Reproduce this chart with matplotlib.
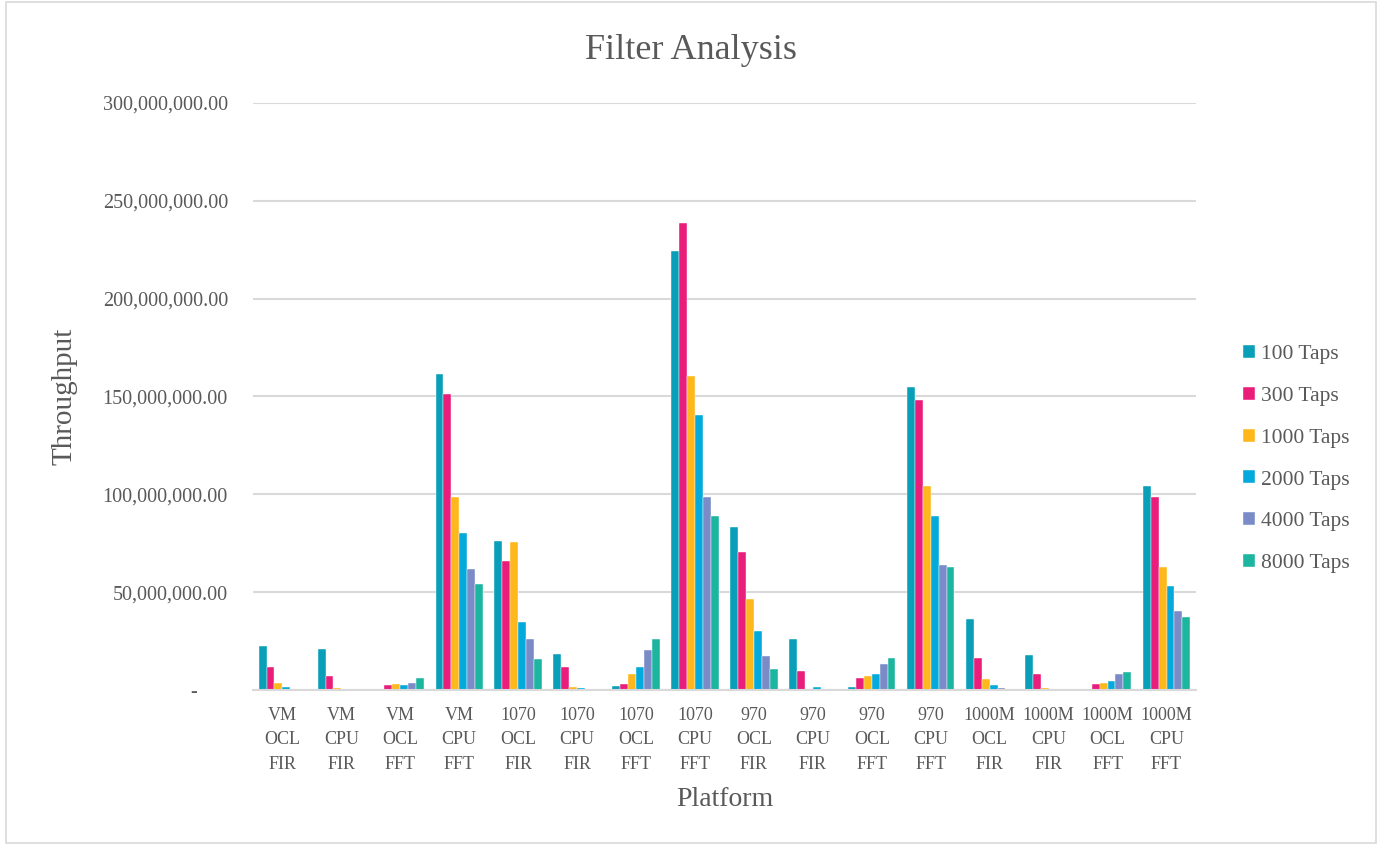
import numpy as np
import matplotlib.pyplot as plt
from matplotlib.patches import Rectangle
from matplotlib.ticker import FuncFormatter

plt.rcParams['font.family'] = ['Liberation Serif', 'DejaVu Serif']

platforms = ["VM\nOCL\nFIR", "VM\nCPU\nFIR", "VM\nOCL\nFFT", "VM\nCPU\nFFT",
             "1070\nOCL\nFIR", "1070\nCPU\nFIR", "1070\nOCL\nFFT", "1070\nCPU\nFFT",
             "970\nOCL\nFIR", "970\nCPU\nFIR", "970\nOCL\nFFT", "970\nCPU\nFFT",
             "1000M\nOCL\nFIR", "1000M\nCPU\nFIR", "1000M\nOCL\nFFT", "1000M\nCPU\nFFT"]

taps = ["100 Taps", "300 Taps", "1000 Taps", "2000 Taps", "4000 Taps", "8000 Taps"]

# throughput in millions of samples/s
taps_100 = [22.5, 21.1, 0.7, 161.5, 76.1, 18.4, 2.0, 224.2, 83.3, 26.1, 1.4, 155.0, 36.1, 17.7, 0.5, 104.1]
taps_300 = [11.9, 7.2, 2.6, 151.3, 65.8, 11.8, 3.2, 238.5, 70.7, 9.5, 6.3, 148.2, 16.4, 8.0, 3.1, 98.6]
taps_1000 = [3.7, 1.0, 3.1, 98.6, 75.5, 1.5, 8.2, 160.6, 46.3, 0.3, 7.0, 104.4, 5.5, 0.9, 3.7, 62.9]
taps_2000 = [1.5, 0.1, 2.4, 80.1, 34.9, 1.0, 11.6, 140.5, 30.0, 1.4, 8.0, 88.9, 2.6, 0.2, 4.8, 53.1]
taps_4000 = [0.7, 0.05, 3.7, 61.8, 26.2, 0.1, 20.4, 98.6, 17.4, 0.1, 13.4, 64.0, 1.0, 0.1, 8.0, 40.4]
taps_8000 = [0.2, 0.03, 6.1, 54.0, 16.0, 0.1, 25.9, 88.9, 10.7, 0.1, 16.4, 62.7, 0.3, 0.1, 9.4, 37.2]

series = [taps_100, taps_300, taps_1000, taps_2000, taps_4000, taps_8000]
colors = ["#0A9FB9", "#E91E7A", "#FFB81C", "#03AADB", "#7A8BC8", "#1CB5A0"]

text_col = "#595959"
grid_col = "#D9D9D9"

fig = plt.figure(figsize=(13.82, 8.44), dpi=100)
ax = fig.add_axes([0.183, 0.1825, 0.6824, 0.6955])

x = np.arange(len(platforms))
w = 0.134
for i, (vals, c, lab) in enumerate(zip(series, colors, taps)):
    ax.bar(x + (i - 2.5) * w, np.array(vals) * 1e6, width=w, color=c, label=lab,
           edgecolor="white", linewidth=0.3)

ax.set_xlim(-0.5, len(platforms) - 0.5)
ax.set_ylim(0, 300e6)
ax.set_yticks(np.arange(0, 300e6 + 1, 50e6))

def fmt(v, pos):
    if v == 0:
        return "-      "
    return f"{v:,.2f}"

ax.yaxis.set_major_formatter(FuncFormatter(fmt))
ax.set_xticks(x)
ax.set_xticklabels(platforms, linespacing=1.6)

ax.grid(axis="y", color=grid_col, linewidth=1.5)
ax.set_axisbelow(True)
for s in ["top", "right", "left"]:
    ax.spines[s].set_visible(False)
ax.spines["bottom"].set_color(grid_col)
ax.spines["bottom"].set_linewidth(1.5)
ax.tick_params(axis="both", length=0, colors=text_col)
ax.tick_params(axis="y", pad=18, labelsize=14.5)
ax.tick_params(axis="x", pad=12, labelsize=13)

ax.set_xlabel("Platform", fontsize=20, color=text_col, labelpad=10)
ax.set_ylabel("Throughput", fontsize=21, color=text_col, labelpad=18)
fig.text(0.5, 0.94, "Filter Analysis", ha="center", va="center",
         fontsize=26, color=text_col)

leg = ax.legend(loc="center left", bbox_to_anchor=(0.893, 0.456),
                bbox_transform=fig.transFigure, frameon=False, fontsize=15.5,
                handlelength=0.55, handleheight=0.55, handletextpad=0.3,
                labelspacing=1.05, borderaxespad=0)
for t in leg.get_texts():
    t.set_color(text_col)

# light frame round the chart area
fig.patches.append(Rectangle((0.004, 0.001), 0.992, 0.997, transform=fig.transFigure,
                             fill=False, edgecolor=grid_col, linewidth=1.2))

fig.savefig("out.png", dpi=100)
